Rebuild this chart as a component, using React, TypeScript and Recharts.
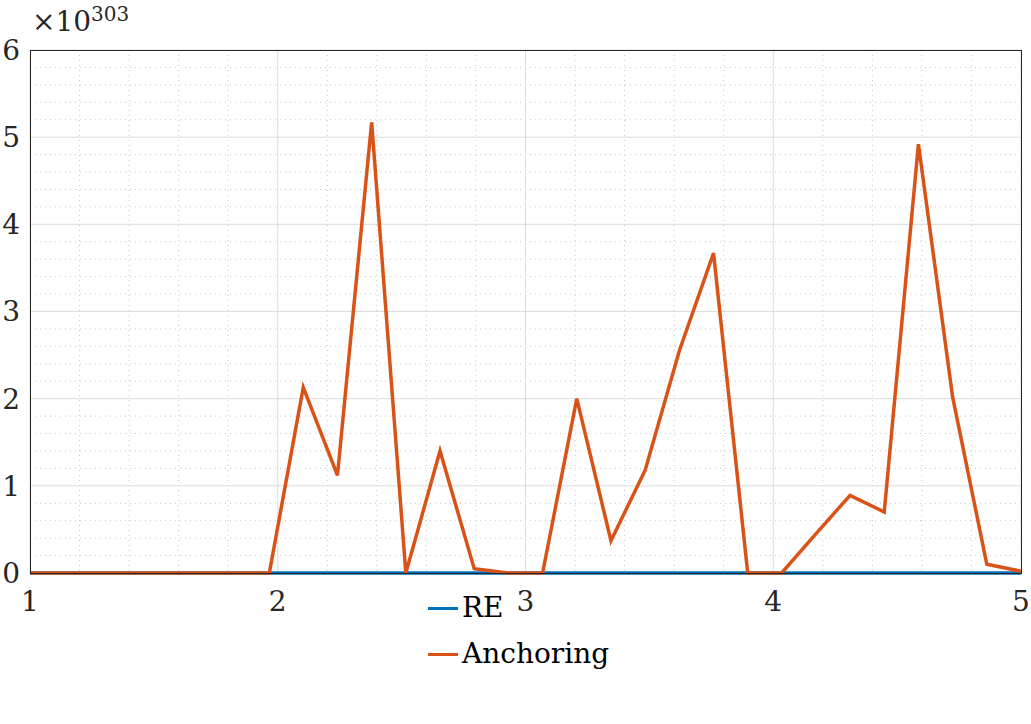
import { LineChart, Line, XAxis, YAxis, CartesianGrid } from "recharts";

const xs = [1, 1.138, 1.276, 1.414, 1.552, 1.69, 1.828, 1.966, 2.103, 2.241, 2.379, 2.517, 2.655, 2.793, 2.931,
  3.069, 3.207, 3.345, 3.483, 3.621, 3.759, 3.897, 4.034, 4.172, 4.31, 4.448, 4.586, 4.724, 4.862, 5];
const anchoring = [0, 0, 0, 0, 0, 0, 0, 0, 2.13, 1.12, 5.17, 0, 1.4, 0.05, 0,
  0, 2.0, 0.37, 1.18, 2.55, 3.67, 0, 0, 0.45, 0.89, 0.7, 4.92, 2.02, 0.1, 0.02];
const re = xs.map(() => 0);
const xTicks = [1, 2, 3, 4, 5];
const yTicks = [0, 1, 2, 3, 4, 5, 6];
const xMinor = [1.2, 1.4, 1.6, 1.8, 2.2, 2.4, 2.6, 2.8, 3.2, 3.4, 3.6, 3.8, 4.2, 4.4, 4.6, 4.8];
const yMinor = [0.2, 0.4, 0.6, 0.8, 1.2, 1.4, 1.6, 1.8, 2.2, 2.4, 2.6, 2.8, 3.2, 3.4, 3.6, 3.8, 4.2, 4.4, 4.6, 4.8, 5.2, 5.4, 5.6, 5.8];

const data = xs.map((x, i) => ({ x, re: re[i], anchoring: anchoring[i] }));
const font = "'DejaVu Serif', serif";
const L = 30, T = 50, W = 991, H = 523;

export default function App() {
  const sx = (v: number) => L + ((v - 1) / 4) * W;
  const sy = (v: number) => T + H - (v / 6) * H;
  return (
    <div style={{ position: "absolute", left: 0, top: 0, width: 1031, height: 724, background: "#fff", fontFamily: font }}>
      <LineChart width={1031} height={724} data={data} margin={{ top: T, right: 10, left: 0, bottom: 724 - T - H - 50 }}>
        <CartesianGrid stroke="#c8c8c8" strokeDasharray="1 4" verticalPoints={xMinor.map(sx)} horizontalPoints={yMinor.map(sy)} />
        <CartesianGrid stroke="#dcdcdc" verticalPoints={xTicks.map(sx)} horizontalPoints={yTicks.map(sy)} />
        <XAxis dataKey="x" type="number" domain={[1, 5]} ticks={xTicks} height={50} axisLine={false} tickLine={false}
          tick={{ fill: "#262626", fontSize: 28, fontFamily: font, dy: 10 }} />
        <YAxis type="number" domain={[0, 6]} ticks={yTicks} width={L} axisLine={false} tickLine={false}
          tick={{ fill: "#262626", fontSize: 28, fontFamily: font, dx: -2 }} />
        <Line dataKey="re" stroke="#0072BD" strokeWidth={3.5} dot={false} isAnimationActive={false} />
        <Line dataKey="anchoring" stroke="#D95319" strokeWidth={3.5} dot={false} isAnimationActive={false} />
      </LineChart>
      <div style={{ position: "absolute", left: L, top: T, width: W - 1, height: H - 1, border: "1px solid #262626", pointerEvents: "none" }} />
      <div style={{ position: "absolute", left: 32, top: 2, fontSize: 28, color: "#262626" }}>
        ×10<sup style={{ fontSize: 20 }}>303</sup>
      </div>
      <div style={{ position: "absolute", left: 428, top: 585, fontSize: 28, color: "#000", lineHeight: "46px" }}>
        {[["RE", "#0072BD"], ["Anchoring", "#D95319"]].map(([n, c]) => (
          <div key={n} style={{ display: "flex", alignItems: "center" }}>
            <span style={{ width: 30, height: 3, background: c, marginRight: 4 }} />{n}
          </div>
        ))}
      </div>
    </div>
  );
}
